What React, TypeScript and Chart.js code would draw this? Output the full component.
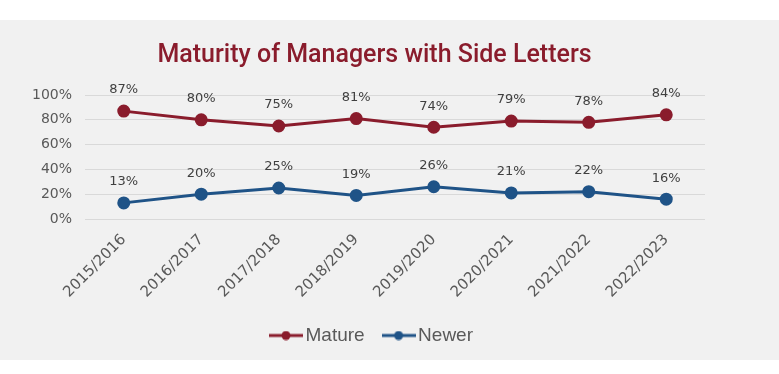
import React, { useEffect, useRef } from "react";
import { Chart, registerables } from "chart.js";

Chart.register(...registerables);

const categories = ["2015/2016", "2016/2017", "2017/2018", "2018/2019", "2019/2020", "2020/2021", "2021/2022", "2022/2023"];
const mature = [87, 80, 75, 81, 74, 79, 78, 84];
const newer = [13, 20, 25, 19, 26, 21, 22, 16];
const yTicks = [0, 20, 40, 60, 80, 100];

const MATURE_COLOR = "#8a1c2c";
const NEWER_COLOR = "#1f5387";
const AXIS_FONT = "'DejaVu Sans'";

function legendIcon(color: string) {
  const c = document.createElement("canvas");
  c.width = 34;
  c.height = 10;
  const ctx = c.getContext("2d")!;
  ctx.strokeStyle = color;
  ctx.lineWidth = 3;
  ctx.beginPath();
  ctx.moveTo(0, 5);
  ctx.lineTo(34, 5);
  ctx.stroke();
  ctx.fillStyle = color;
  ctx.beginPath();
  ctx.arc(17, 5, 4.5, 0, Math.PI * 2);
  ctx.fill();
  return c;
}

const dataLabelPlugin = {
  id: "dataLabels",
  afterDatasetsDraw(chart: any) {
    const ctx = chart.ctx;
    ctx.save();
    ctx.font = "13px " + AXIS_FONT;
    ctx.fillStyle = "#404040";
    ctx.textAlign = "center";
    ctx.textBaseline = "middle";
    chart.data.datasets.forEach((ds: any, i: number) => {
      const meta = chart.getDatasetMeta(i);
      meta.data.forEach((pt: any, j: number) => {
        ctx.fillText(ds.data[j] + "%", pt.x, pt.y - 21);
      });
    });
    ctx.restore();
  },
};

export default function App() {
  const ref = useRef<HTMLCanvasElement>(null);
  useEffect(() => {
    const icons = [legendIcon(MATURE_COLOR), legendIcon(NEWER_COLOR)];
    const chart = new Chart(ref.current!, {
      type: "line",
      data: {
        labels: categories,
        datasets: [
          {
            label: "Mature",
            data: mature,
            borderColor: MATURE_COLOR,
            backgroundColor: MATURE_COLOR,
            borderWidth: 3,
            pointRadius: 5,
            pointHoverRadius: 5,
            pointStyle: "circle",
            tension: 0,
          },
          {
            label: "Newer",
            data: newer,
            borderColor: NEWER_COLOR,
            backgroundColor: NEWER_COLOR,
            borderWidth: 3,
            pointRadius: 5,
            pointHoverRadius: 5,
            pointStyle: "circle",
            tension: 0,
          },
        ],
      },
      options: {
        animation: false,
        responsive: true,
        maintainAspectRatio: false,
        layout: { padding: { left: 0, right: 30, top: 0, bottom: 5 } },
        plugins: {
          title: {
            display: true,
            text: "Maturity of Managers with Side Letters",
            color: MATURE_COLOR,
            font: { family: "Roboto", size: 25, weight: 500 },
            padding: { top: 21, bottom: 24 },
          },
          legend: {
            position: "bottom",
            labels: {
              usePointStyle: true,
              pointStyleWidth: 20,
              color: "#595959",
              font: { family: "'Liberation Sans'", size: 19 },
              padding: 24,
              generateLabels: (chart: any) =>
                chart.data.datasets.map((ds: any, i: number) => ({
                  text: ds.label,
                  fillStyle: ds.borderColor,
                  strokeStyle: ds.borderColor,
                  pointStyle: icons[i],
                  datasetIndex: i,
                  hidden: false,
                  fontColor: "#595959",
                })),
            },
          },
          tooltip: { enabled: false },
        },
        scales: {
          x: {
            offset: true,
            grid: { display: false, drawTicks: false },
            border: { display: false },
            ticks: {
              color: "#595959",
              font: { family: AXIS_FONT, size: 15 },
              minRotation: 45,
              maxRotation: 45,
              padding: 12,
            },
            afterFit: (scale: any) => {
              scale.height = 83;
            },
          },
          y: {
            min: 0,
            max: 100,
            afterBuildTicks: (scale: any) => {
              scale.ticks = yTicks.map((v) => ({ value: v }));
            },
            grid: { color: "#d9d9d9", lineWidth: 1, drawTicks: false },
            border: { display: false },
            ticks: {
              color: "#595959",
              font: { family: AXIS_FONT, size: 14 },
              padding: 13,
              callback: (v: any) => v + "%",
            },
            afterFit: (scale: any) => {
              scale.width = 85;
            },
          },
          yRight: {
            type: "linear",
            position: "right",
            display: true,
            grid: { display: false, drawTicks: false },
            border: { display: false },
            ticks: { display: false },
            afterFit: (scale: any) => {
              scale.width = 44;
            },
          },
        },
      },
      plugins: [dataLabelPlugin],
    });
    return () => chart.destroy();
  }, []);

  return (
    <div style={{ position: "absolute", left: 0, top: 0, width: 779, height: 374, background: "#ffffff" }}>
      <div style={{ position: "absolute", left: 0, top: 20, width: 779, height: 340, background: "#f1f1f1" }}>
        <canvas ref={ref} />
      </div>
    </div>
  );
}
